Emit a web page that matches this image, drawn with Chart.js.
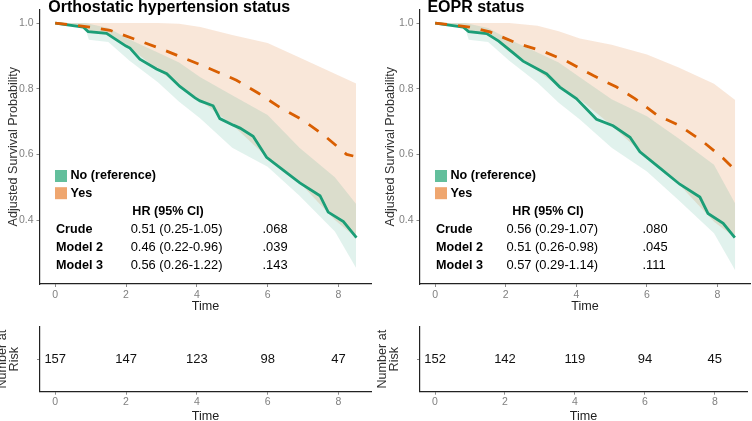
<!DOCTYPE html>
<html>
<head>
<meta charset="utf-8">
<script src="https://cdn.jsdelivr.net/npm/chart.js@4.4.1/dist/chart.umd.min.js"></script>
<style>
    html, body { margin: 0; padding: 0; background: #fff; width: 752px; height: 421px; overflow: hidden; }
    canvas { position: absolute; }
</style>
</head>
<body>
<canvas id="survOH" width="376" height="314" style="left:0;top:0"></canvas>
<canvas id="survEO" width="372" height="314" style="left:380px;top:0"></canvas>
<canvas id="riskOH" width="383" height="112" style="left:-7px;top:312px"></canvas>
<canvas id="riskEO" width="379" height="112" style="left:373px;top:312px"></canvas>
<script>
// axes
const timeTicks = [0, 2, 4, 6, 8];
const survTicks = [0.4, 0.6, 0.8, 1.0];
const groupLabels = ['No (reference)', 'Yes'];

// confidence band time grid (shared by both panels)
const ciTime = [0, 0.85, 0.95, 1.5, 2.1, 2.9, 3.5, 4.1, 5.0, 6.0, 6.9, 7.9, 8.5];

// Orthostatic hypertension status
const ohNoTime  = [0, 0.79, 0.93, 1.45, 1.73, 2.0, 2.11, 2.39, 2.86, 3.15, 3.52, 3.95, 4.09, 4.46, 4.65, 5.03, 5.22, 5.59, 5.97, 6.44, 6.91, 7.48, 7.71, 8.14, 8.51];
const ohNoSurv  = [1.0, 0.988, 0.974, 0.969, 0.949, 0.93, 0.924, 0.89, 0.86, 0.846, 0.807, 0.772, 0.763, 0.748, 0.709, 0.689, 0.68, 0.655, 0.591, 0.552, 0.513, 0.474, 0.424, 0.395, 0.346];
const ohYesTime = [0, 0.98, 1.55, 2.3, 3.05, 3.71, 4.37, 5.12, 5.73, 6.35, 7.0, 7.57, 8.23, 8.42];
const ohYesSurv = [1.0, 0.988, 0.978, 0.949, 0.919, 0.89, 0.861, 0.826, 0.787, 0.743, 0.704, 0.66, 0.60, 0.595];
const ohNoUpper  = [1, 1, 0.998, 0.985, 0.95, 0.91, 0.88, 0.835, 0.78, 0.72, 0.62, 0.53, 0.449];
const ohNoLower  = [1, 0.985, 0.949, 0.942, 0.885, 0.82, 0.76, 0.709, 0.62, 0.562, 0.474, 0.365, 0.254];
const ohYesUpper = [1, 1, 1, 1, 1, 1, 0.998, 0.988, 0.964, 0.939, 0.895, 0.846, 0.816];
const ohYesLower = [1, 0.986, 0.975, 0.967, 0.925, 0.858, 0.81, 0.763, 0.69, 0.59, 0.514, 0.40, 0.346];
const ohModels = ['Crude', 'Model 2', 'Model 3'];
const ohHR = ['0.51 (0.25-1.05)', '0.46 (0.22-0.96)', '0.56 (0.26-1.22)'];
const ohP  = ['.068', '.039', '.143'];
const ohRisk = [157, 147, 123, 98, 47];

// EOPR status
const eoNoTime  = [0, 0.79, 0.95, 1.46, 1.8, 2.21, 2.49, 3.16, 3.53, 4.0, 4.57, 5.04, 5.52, 5.8, 6.37, 6.93, 7.5, 7.73, 8.16, 8.49];
const eoNoSurv  = [1.0, 0.988, 0.974, 0.968, 0.945, 0.909, 0.884, 0.845, 0.805, 0.77, 0.707, 0.687, 0.652, 0.608, 0.558, 0.509, 0.47, 0.42, 0.39, 0.346];
const eoYesTime = [0, 0.98, 1.55, 2.31, 3.06, 3.72, 4.48, 5.14, 5.66, 6.27, 6.93, 7.55, 8.16, 8.49];
const eoYesSurv = [1.0, 0.988, 0.973, 0.939, 0.914, 0.884, 0.84, 0.805, 0.77, 0.721, 0.687, 0.642, 0.588, 0.553];
const eoNoUpper  = [1, 1, 0.998, 0.985, 0.95, 0.91, 0.88, 0.835, 0.768, 0.716, 0.648, 0.568, 0.45];
const eoNoLower  = [1, 0.985, 0.949, 0.942, 0.885, 0.818, 0.757, 0.706, 0.62, 0.548, 0.46, 0.36, 0.247];
const eoYesUpper = [1, 1, 1, 1, 1, 0.992, 0.975, 0.953, 0.934, 0.904, 0.865, 0.815, 0.766];
const eoYesLower = [1, 0.986, 0.974, 0.967, 0.912, 0.855, 0.806, 0.767, 0.688, 0.59, 0.51, 0.395, 0.346];
const eoModels = ['Crude', 'Model 2', 'Model 3'];
const eoHR = ['0.56 (0.29-1.07)', '0.51 (0.26-0.98)', '0.57 (0.29-1.14)'];
const eoP  = ['.080', '.045', '.111'];
const eoRisk = [152, 142, 119, 94, 45];

const FONT = '"Liberation Sans", Arial, Helvetica, sans-serif';
const GREEN = '#1b9e77';
const ORANGE = '#d95f02';

function pts(xs, ys) {
    return xs.map((x, i) => ({ x: x, y: ys[i] }));
}

function fixTicks(values) {
    return function(scale) {
        scale.ticks = values.map(v => ({ value: v }));
    };
}

// title, legend keys and the HR table drawn over the plot
function notesPlugin(p) {
    return {
        id: 'notes',
        afterDatasetsDraw(chart) {
            const ctx = chart.ctx;
            const L = chart.chartArea.left;
            ctx.save();
            ctx.fillStyle = '#000';
            ctx.textBaseline = 'alphabetic';
            ctx.textAlign = 'left';
            ctx.font = 'bold 16px ' + FONT;
            ctx.fillText(p.title, L + p.titleX, 12);

            const keyColors = ['#63bf9c', '#efa66f'];
            ctx.textBaseline = 'middle';
            groupLabels.forEach((lab, i) => {
                const cy = 176 + i * 17.2;
                ctx.fillStyle = keyColors[i];
                ctx.fillRect(L + 15, cy - 6, 12, 12);
                ctx.fillStyle = '#000';
                ctx.font = 'bold 12.6px ' + FONT;
                ctx.fillText(lab, L + 30.5, cy);
            });

            ctx.font = 'bold 12.6px ' + FONT;
            ctx.fillText('HR (95% CI)', L + 92.3, 211.7);
            p.models.forEach((m, i) => {
                const cy = 229.9 + i * 17.85;
                ctx.font = 'bold 12.6px ' + FONT;
                ctx.fillText(m, L + 16, cy);
                ctx.font = '12.9px ' + FONT;
                ctx.fillText(p.hr[i], L + p.valueX, cy);
                ctx.fillText(p.pv[i], L + 222.5, cy);
            });
            ctx.restore();
        }
    };
}

function riskLabelPlugin(counts) {
    return {
        id: 'riskLabels',
        afterDatasetsDraw(chart) {
            const ctx = chart.ctx;
            const meta = chart.getDatasetMeta(0);
            ctx.save();
            ctx.fillStyle = '#111';
            ctx.font = '13px ' + FONT;
            ctx.textAlign = 'center';
            ctx.textBaseline = 'middle';
            meta.data.forEach((pt, i) => {
                ctx.fillText(String(counts[i]), pt.x, pt.y);
            });
            ctx.restore();
        }
    };
}

function timeAxis(height, tickPad) {
    return {
        type: 'linear',
        min: -0.43,
        max: 8.92,
        afterBuildTicks: fixTicks(timeTicks),
        afterFit: s => { s.height = height; },
        grid: { display: true, drawOnChartArea: false, drawTicks: true, tickLength: 3, color: '#8a8a8a' },
        border: { display: true, color: '#222', width: 1.2 },
        ticks: { color: '#808080', font: { size: 10.5, family: FONT }, padding: tickPad, maxRotation: 0, autoSkip: false },
        title: { display: true, text: 'Time', color: '#222', font: { size: 12.6, family: FONT }, padding: { top: 0, bottom: 0 } }
    };
}

function makeSurvChart(id, p) {
    new Chart(document.getElementById(id), {
        type: 'line',
        data: {
            datasets: [
                { data: pts(p.yesTime, p.yesSurv), borderColor: ORANGE, borderWidth: 2.8, borderDash: [12, 11], borderCapStyle: 'butt', pointRadius: 0, fill: false, order: 0 },
                { data: pts(p.noTime, p.noSurv), borderColor: GREEN, borderWidth: 2.8, pointRadius: 0, fill: false, order: 1 },
                { data: pts(ciTime, p.noUpper), borderColor: 'rgba(0,0,0,0)', pointRadius: 0, fill: false, order: 2 },
                { data: pts(ciTime, p.noLower), borderColor: 'rgba(0,0,0,0)', pointRadius: 0, fill: '-1', backgroundColor: 'rgba(27,158,119,0.13)', order: 2 },
                { data: pts(ciTime, p.yesUpper), borderColor: 'rgba(0,0,0,0)', pointRadius: 0, fill: false, order: 2 },
                { data: pts(ciTime, p.yesLower), borderColor: 'rgba(0,0,0,0)', pointRadius: 0, fill: '-1', backgroundColor: 'rgba(217,95,2,0.15)', order: 2 }
            ]
        },
        options: {
            responsive: false,
            animation: false,
            events: [],
            layout: { padding: { left: 0, right: p.padRight, top: 0, bottom: 0 } },
            plugins: {
                legend: { display: false },
                tooltip: { enabled: false },
                filler: { drawTime: 'beforeDatasetsDraw' }
            },
            scales: {
                x: timeAxis(30, 2),
                y: {
                    min: 0.205,
                    max: 1.042,
                    afterBuildTicks: fixTicks(survTicks),
                    afterFit: s => { s.width = 40; },
                    grid: { display: true, drawOnChartArea: false, drawTicks: true, tickLength: 3.5, color: '#8a8a8a' },
                    border: { display: true, color: '#222', width: 1.2 },
                    ticks: { color: '#808080', font: { size: 10.5, family: FONT }, padding: 3, callback: v => v.toFixed(1) },
                    title: { display: true, text: 'Adjusted Survival Probability', color: '#333', font: { size: 12.6, family: FONT }, padding: { top: p.yTitlePad, bottom: 0 } }
                }
            }
        },
        plugins: [notesPlugin(p)]
    });
}

function makeRiskChart(id, counts) {
    new Chart(document.getElementById(id), {
        type: 'scatter',
        data: {
            datasets: [{ data: timeTicks.map(t => ({ x: t, y: 0.5 })), pointRadius: 0 }]
        },
        options: {
            responsive: false,
            animation: false,
            events: [],
            layout: { padding: { left: 0, right: 5, top: 14.7, bottom: 0 } },
            plugins: { legend: { display: false }, tooltip: { enabled: false } },
            scales: {
                x: timeAxis(32.3, 1),
                y: {
                    min: 0,
                    max: 1,
                    afterBuildTicks: fixTicks([0.5]),
                    afterFit: s => { s.width = 47; },
                    grid: { display: true, drawOnChartArea: false, drawTicks: true, tickLength: 3, color: '#8a8a8a' },
                    border: { display: true, color: '#222', width: 1.2 },
                    ticks: { callback: () => '' },
                    title: { display: true, text: ['Number at', 'Risk'], color: '#333', font: { size: 12.6, family: FONT, lineHeight: 0.95 }, padding: { top: 4, bottom: 0 } }
                }
            }
        },
        plugins: [riskLabelPlugin(counts)]
    });
}

makeSurvChart('survOH', {
    title: 'Orthostatic hypertension status', titleX: 8.3, valueX: 90.7, padRight: 5, yTitlePad: 5.5,
    noTime: ohNoTime, noSurv: ohNoSurv, yesTime: ohYesTime, yesSurv: ohYesSurv,
    noUpper: ohNoUpper, noLower: ohNoLower, yesUpper: ohYesUpper, yesLower: ohYesLower,
    models: ohModels, hr: ohHR, pv: ohP
});
makeSurvChart('survEO', {
    title: 'EOPR status', titleX: 7.4, valueX: 86.4, padRight: 2, yTitlePad: 2.5,
    noTime: eoNoTime, noSurv: eoNoSurv, yesTime: eoYesTime, yesSurv: eoYesSurv,
    noUpper: eoNoUpper, noLower: eoNoLower, yesUpper: eoYesUpper, yesLower: eoYesLower,
    models: eoModels, hr: eoHR, pv: eoP
});
makeRiskChart('riskOH', ohRisk);
makeRiskChart('riskEO', eoRisk);
</script>
</body>
</html>
